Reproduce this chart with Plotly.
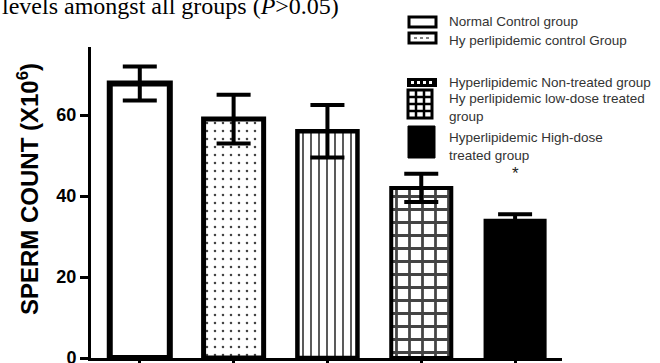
import plotly.graph_objects as go

# ---- data ----
groups = ["Normal Control group", "Hyperlipidemic control Group",
          "Hyperlipidemic Non-treated group", "Hyperlipidemic low-dose treated group",
          "Hyperlipidemic High-dose treated group"]
sperm_count = [67.8, 59.0, 56.0, 42.0, 34.0]
sperm_err = [4.2, 6.0, 6.5, 3.5, 1.5]
y_ticks = [0, 20, 40, 60]
legend_lines = ["Normal Control group", "Hy perlipidemic control Group",
                "Hyperlipidemic Non-treated group", "Hy perlipidemic low-dose treated",
                "group", "Hyperlipidemic High-dose", "treated group"]

# ---- layout geometry (pixels) ----
W_IMG, H_IMG = 660, 363
L, R, T, B = 91, 562, 47, 358
PW, PH = R - L, B - T

def fx(px):
    return (px - L) / PW

def fy(py):
    return (B - py) / PH

patterns = ["", ".", "|", "+", ""]
fills = ["white", "white", "white", "white", "black"]
pat_size = [8, 8, 8, 13, 8]
pat_sol = [0.2, 0.08, 0.22, 0.38, 0.2]
line_w = [6, 5, 4.5, 4, 3]

fig = go.Figure()
fig.add_trace(go.Bar(
    x=groups, y=sperm_count, width=0.64,
    marker=dict(color=fills, line=dict(color="black", width=line_w),
                pattern=dict(shape=patterns, fgcolor="black", bgcolor=fills, fgopacity=1,
                             size=pat_size, solidity=pat_sol, fillmode="overlay")),
    error_y=dict(type="data", array=sperm_err, visible=True, color="black",
                 thickness=4, width=17),
    showlegend=False,
))

shapes = []
# legend icons
def rect(x0, y0, x1, y1, fill="white", lw=3):
    shapes.append(dict(type="rect", xref="paper", yref="paper",
                       x0=fx(x0), x1=fx(x1), y0=fy(y0), y1=fy(y1),
                       fillcolor=fill, line=dict(color="black", width=lw)))

def seg(x0, y0, x1, y1, color="black", lw=2, dash="solid"):
    shapes.append(dict(type="line", xref="paper", yref="paper",
                       x0=fx(x0), x1=fx(x1), y0=fy(y0), y1=fy(y1),
                       line=dict(color=color, width=lw, dash=dash)))

rect(409, 17, 436, 27)
rect(409, 33, 436, 43)
seg(414, 38, 431, 38, color="#555", lw=1.5, dash="dot")
rect(408, 79, 436, 86, fill="black", lw=2)
seg(411, 82.5, 433, 82.5, color="white", lw=3, dash="dot")
rect(408, 90, 432, 118)
for gx in (416, 424):
    seg(gx, 90, gx, 118, lw=2.5)
for gy in (97, 104, 111):
    seg(408, gy, 432, gy, lw=2.5)
rect(408, 126, 435, 158, fill="black", lw=1)

annotations = []
legend_y = [22, 40, 83, 98, 117, 137, 155]
for txt, ly in zip(legend_lines, legend_y):
    annotations.append(dict(text=txt, xref="paper", yref="paper", x=fx(447), y=fy(ly),
                            xanchor="left", yanchor="middle", showarrow=False,
                            font=dict(family="Liberation Sans, Arial", size=13.5, color="#333")))

# significance star
annotations.append(dict(text="*", xref="x", yref="y", x=groups[4], y=45.5,
                        showarrow=False, font=dict(family="Liberation Sans, Arial", size=17, color="#222")))
# y axis title
annotations.append(dict(text="SPERM COUNT (X10<sup>6</sup>)", xref="paper", yref="paper",
                        x=fx(28), y=fy(189), xanchor="center", yanchor="middle",
                        textangle=-90, showarrow=False,
                        font=dict(family="Liberation Sans, Arial", size=24, color="black", weight="bold")))
# cropped caption text at top
annotations.append(dict(text="levels amongst all groups (<i>P</i>>0.05)", xref="paper", yref="paper",
                        x=fx(0), y=fy(6), xanchor="left", yanchor="middle", showarrow=False,
                        font=dict(family="Liberation Serif, Times New Roman", size=24, color="black")))

fig.update_layout(
    width=W_IMG, height=H_IMG,
    margin=dict(l=L, r=W_IMG - R, t=T, b=H_IMG - B, autoexpand=False),
    paper_bgcolor="white", plot_bgcolor="white",
    shapes=shapes, annotations=annotations,
    xaxis=dict(type="category", categoryarray=groups, range=[-0.52, 4.5],
               showline=True, linecolor="black", linewidth=3,
               ticks="outside", ticklen=8, tickwidth=2.5, tickcolor="black",
               showticklabels=False, showgrid=False, zeroline=False, automargin=False),
    yaxis=dict(range=[0, 76.8], tickvals=y_ticks, showline=True, linecolor="black", linewidth=3,
               ticks="outside", ticklen=8, tickwidth=2.5, tickcolor="black",
               ticklabeloverflow="allow",
               tickfont=dict(family="Liberation Sans, Arial", size=18, color="black", weight="bold"),
               showgrid=False, zeroline=False, automargin=False),
    bargap=0.36,
)

fig.write_html("out.html")
